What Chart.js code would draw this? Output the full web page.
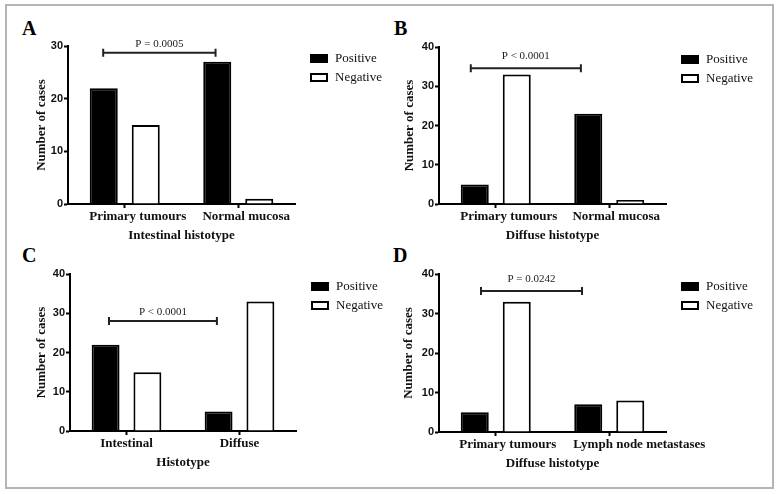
<!DOCTYPE html>
<html>
<head>
<meta charset="utf-8">
<script src="https://cdn.jsdelivr.net/npm/chart.js@4.4.1/dist/chart.umd.min.js"></script>
<style>
  body { margin:0; background:#fff; width:781px; height:495px; position:relative; overflow:hidden; font-family:"Liberation Serif", serif; }
  #frame { position:absolute; left:5px; top:4px; width:765px; height:481px; border:2px solid #b4b4b4; }
  canvas { position:absolute; }
  .letter { position:absolute; font:bold 20px "Liberation Serif", serif; line-height:20px; }
</style>
</head>
<body>
<div id="frame"></div>
<div class="letter" style="left:22px;top:18px">A</div>
<div class="letter" style="left:394px;top:18px">B</div>
<div class="letter" style="left:22px;top:245px">C</div>
<div class="letter" style="left:393px;top:245px">D</div>
<canvas id="chartA" width="390" height="245" style="left:0;top:0"></canvas>
<canvas id="chartB" width="390" height="245" style="left:390px;top:0"></canvas>
<canvas id="chartC" width="390" height="240" style="left:0;top:250px"></canvas>
<canvas id="chartD" width="390" height="240" style="left:390px;top:250px"></canvas>
<script>
/* ── Data ─────────────────────────────────────── */
const seriesNames = ['Positive', 'Negative'];

const catsA = ['Primary tumours', 'Normal mucosa'];
const posA = [22, 27];
const negA = [15, 1];

const catsB = ['Primary tumours', 'Normal mucosa'];
const posB = [5, 23];
const negB = [33, 1];

const catsC = ['Intestinal', 'Diffuse'];
const posC = [22, 5];
const negC = [15, 33];

const catsD = ['Primary tumours', 'Lymph node metastases'];
const posD = [5, 7];
const negD = [33, 8];

const yTicks30 = [0, 10, 20, 30];
const yTicks40 = [0, 10, 20, 30, 40];

const xTitles = ['Intestinal histotype', 'Diffuse histotype', 'Histotype', 'Diffuse histotype'];
const pLabels = ['P = 0.0005', 'P < 0.0001', 'P < 0.0001', 'P = 0.0242'];

/* ── Plugins: legend box, significance bracket, label nudge ── */
const panelLegend = {
  id: 'panelLegend',
  afterDraw(chart) {
    const { ctx, chartArea } = chart;
    const o = chart.options.plugins.panelLegend;
    ctx.save();
    chart.data.datasets.forEach((ds, i) => {
      const x = chartArea.right + o.dx;
      const y = chartArea.top + o.dy + i * 19;
      ctx.fillStyle = ds.backgroundColor;
      ctx.fillRect(x, y, 18, 9);
      ctx.strokeStyle = '#000';
      ctx.lineWidth = 2;
      ctx.strokeRect(x + 1, y + 1, 16, 7);
      ctx.fillStyle = '#111';
      ctx.font = '13px "Liberation Serif"';
      ctx.textBaseline = 'middle';
      ctx.textAlign = 'left';
      ctx.fillText(ds.label, x + 25, y + 5);
    });
    ctx.restore();
  }
};

const sigBracket = {
  id: 'sigBracket',
  afterDraw(chart) {
    const { ctx, scales } = chart;
    const o = chart.options.plugins.sigBracket;
    const x1 = scales.x.getPixelForValue(o.from);
    const x2 = scales.x.getPixelForValue(o.to);
    const y = scales.y.getPixelForValue(o.at);
    ctx.save();
    ctx.strokeStyle = '#222';
    ctx.lineWidth = 2;
    ctx.beginPath();
    ctx.moveTo(x1, y); ctx.lineTo(x2, y);
    ctx.moveTo(x1, y - 4); ctx.lineTo(x1, y + 4);
    ctx.moveTo(x2, y - 4); ctx.lineTo(x2, y + 4);
    ctx.stroke();
    ctx.fillStyle = '#222';
    ctx.font = '11px "Liberation Serif"';
    ctx.textAlign = 'center';
    ctx.textBaseline = 'middle';
    ctx.fillText(o.text, (x1 + x2) / 2, y - o.gap);
    ctx.restore();
  }
};

// the category labels sit a little right of their tick marks in the original
const labelShift = {
  id: 'labelShift',
  beforeDraw(chart) {
    const dx = chart.options.plugins.labelShift.dx;
    const items = chart.scales.x.getLabelItems();
    if (items._shifted) return;
    items.forEach((it, i) => { it.options.translation[0] += dx[i] || 0; });
    items._shifted = true;
  }
};

/* ── Chart builder ────────────────────────────── */
function makePanel(id, cats, pos, neg, yTicks, xTitle, box, bracket, shift) {
  const ctx = document.getElementById(id).getContext('2d');
  return new Chart(ctx, {
    type: 'bar',
    data: {
      labels: cats,
      datasets: [
        { label: seriesNames[0], data: pos, backgroundColor: '#000', borderColor: '#000', borderWidth: 2 },
        { label: seriesNames[1], data: neg, backgroundColor: '#fff', borderColor: '#000', borderWidth: 2 }
      ]
    },
    options: {
      responsive: false,
      animation: false,
      categoryPercentage: 0.74,
      barPercentage: 0.667,
      layout: { padding: { left: 0, top: box.top, right: box.right, bottom: box.bottom } },
      plugins: {
        legend: { display: false },
        tooltip: { enabled: false },
        panelLegend: { dx: 15, dy: 8 },
        sigBracket: bracket,
        labelShift: { dx: shift }
      },
      scales: {
        x: {
          grid: { drawOnChartArea: false, offset: false, tickLength: 4, tickWidth: 2, tickColor: '#000' },
          border: { color: '#000', width: 2 },
          ticks: { color: '#111', padding: 1, maxRotation: 0, autoSkip: false,
                   font: { family: 'Liberation Serif', size: 13, weight: 'bold' } },
          title: { display: true, text: xTitle, color: '#111', padding: { top: 0, bottom: 1 },
                   font: { family: 'Liberation Serif', size: 13, weight: 'bold', lineHeight: 1.2 } },
          afterFit: s => { s.height = 40; }
        },
        y: {
          min: yTicks[0], max: yTicks[yTicks.length - 1],
          grid: { drawOnChartArea: false, tickLength: 4, tickWidth: 2, tickColor: '#000' },
          border: { color: '#000', width: 2 },
          ticks: { stepSize: yTicks[1] - yTicks[0], color: '#111', padding: 1,
                   font: { family: 'Liberation Sans', size: 11, weight: 'bold' } },
          title: { display: true, text: 'Number of cases', color: '#111', padding: { top: box.yTitlePad, bottom: 0 },
                   font: { family: 'Liberation Serif', size: 13, weight: 'bold', lineHeight: 1.2 } },
          afterFit: s => { s.width = box.yWidth; }
        }
      }
    },
    plugins: [panelLegend, sigBracket, labelShift]
  });
}

makePanel('chartA', catsA, posA, negA, yTicks30, xTitles[0],
  { top: 46, right: 95, bottom: 1, yWidth: 68, yTitlePad: 34 },
  { from: -0.19, to: 0.80, at: 28.7, gap: 9, text: pLabels[0] }, [13, 8]);
makePanel('chartB', catsB, posB, negB, yTicks40, xTitles[1],
  { top: 47, right: 114, bottom: 1, yWidth: 49, yTitlePad: 12 },
  { from: -0.22, to: 0.75, at: 34.6, gap: 12, text: pLabels[1] }, [13, 7]);
makePanel('chartC', catsC, posC, negC, yTicks40, xTitles[2],
  { top: 24, right: 94, bottom: 19, yWidth: 70, yTitlePad: 34 },
  { from: -0.155, to: 0.80, at: 28, gap: 9, text: pLabels[2] }, [0, 0]);
makePanel('chartD', catsD, posD, negD, yTicks40, xTitles[3],
  { top: 24, right: 114, bottom: 18, yWidth: 49, yTitlePad: 11 },
  { from: -0.13, to: 0.76, at: 35.7, gap: 12, text: pLabels[3] }, [12, 30]);
</script>
</body>
</html>
